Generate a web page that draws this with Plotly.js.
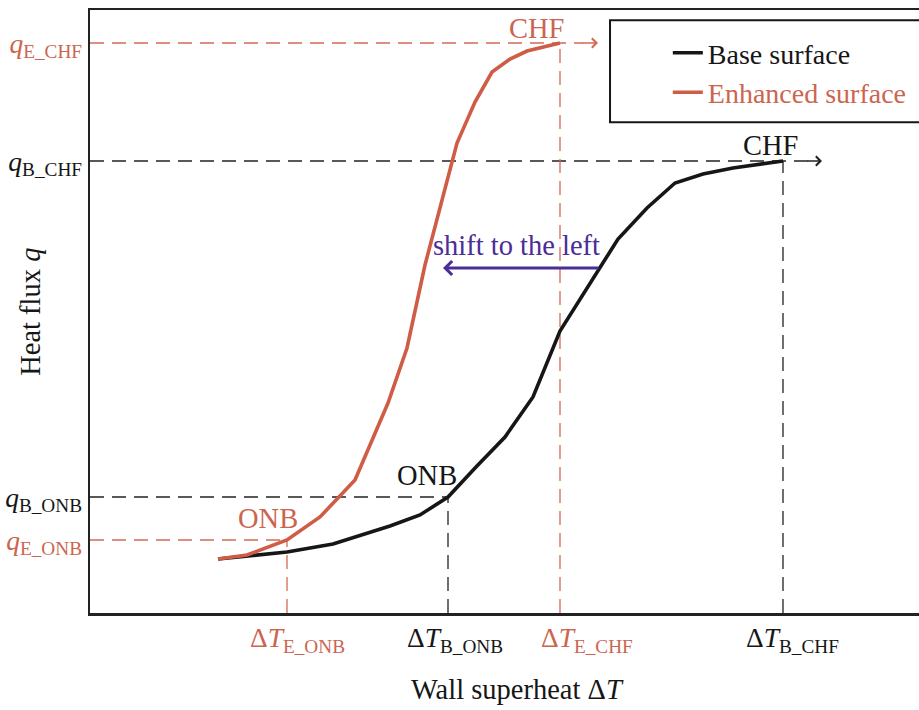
<!DOCTYPE html>
<html>
<head>
<meta charset="utf-8">
<script src="https://cdn.plot.ly/plotly-3.0.1.min.js"></script>
<style>html,body{margin:0;padding:0;background:#fff;}</style>
</head>
<body>
<div id="chart" style="width:919px;height:710px;"></div>
<script>
// Base surface boiling curve (wall superheat, heat flux) in arbitrary units
const baseT = [128, 197, 243, 300, 330, 358, 386, 415, 443, 470, 528, 557, 585, 613, 643, 693];
const baseQ = [54, 61, 69, 87, 98, 116, 146, 176, 216, 282, 374, 405, 430, 439, 445, 452];
// Enhanced surface boiling curve
const enhT = [128, 157, 197, 230, 265, 298, 317, 335, 367, 385, 402, 420, 437, 470];
const enhQ = [54, 58, 73, 96, 133, 210, 265, 348, 470, 511, 541, 554, 562, 570];
// Key points: [ONB, CHF]
const keyNames = ['ONB', 'CHF'];
const baseKeyT = [358, 693];
const baseKeyQ = [116, 452];
const enhKeyT = [197, 470];
const enhKeyQ = [73, 570];
// Tick labels
const xTickText = ['E_ONB', 'B_ONB', 'E_CHF', 'B_CHF'];
const yTickText = ['E_CHF', 'B_CHF', 'B_ONB', 'E_ONB'];

const RED = '#cf5c45';
const RED_TXT = '#cc6550';
const RED_DASH = '#d46a55';
const BLACK = '#161616';
const PURPLE = '#4b2d96';
const FONT = 'Liberation Serif, Times New Roman, serif';
const FS = 28.5;

function col(c, s) { return '<span style="color:' + c + '">' + s + '</span>'; }

const xTickVals = [enhKeyT[0], baseKeyT[0], enhKeyT[1], baseKeyT[1]];
const xTickColors = [RED_TXT, BLACK, RED_TXT, BLACK];
const xLabelShift = [10, 7, 27, 9];
const yTickVals = [enhKeyQ[1], baseKeyQ[1], baseKeyQ[0], enhKeyQ[0]];
const yTickColors = [RED_TXT, BLACK, BLACK, RED_TXT];
const yTicks = yTickText.map((t, i) => col(yTickColors[i], '<i>q</i><sub>' + t + '</sub>'));

const traces = [
  {x: baseT, y: baseQ, mode: 'lines', name: col(BLACK, 'Base surface'),
   line: {color: BLACK, width: 3.6}},
  {x: enhT, y: enhQ, mode: 'lines', name: col(RED_TXT, 'Enhanced surface'),
   line: {color: RED, width: 3.6}}
];

const dash = '14px,8px';
const shapes = [];
function hline(y, x1, c) {
  shapes.push({type: 'line', xref: 'x', yref: 'y', x0: 0, x1: x1, y0: y, y1: y,
    line: {color: c, width: 1.3, dash: dash}, layer: 'below'});
}
function vline(x, y1, c) {
  shapes.push({type: 'line', xref: 'x', yref: 'y', x0: x, x1: x, y0: 0, y1: y1,
    line: {color: c, width: 1.3, dash: dash}, layer: 'below'});
}
const enhArrowTip = 508, baseArrowTip = 732;
hline(enhKeyQ[1], enhArrowTip - 14, RED_DASH);
hline(baseKeyQ[1], baseArrowTip - 14, '#222');
hline(baseKeyQ[0], baseKeyT[0], '#222');
hline(enhKeyQ[0], enhKeyT[0], RED_DASH);
vline(enhKeyT[1], enhKeyQ[1], RED_DASH);
vline(baseKeyT[1], baseKeyQ[1], '#222');
vline(baseKeyT[0], baseKeyQ[0], '#222');
vline(enhKeyT[0], enhKeyQ[0], RED_DASH);
// legend frame
shapes.push({type: 'rect', xref: 'paper', yref: 'paper', x0: 0.6273, x1: 1.05, y0: 0.814, y1: 0.983,
  line: {color: BLACK, width: 2}, fillcolor: 'rgba(0,0,0,0)'});

const annotations = [
  {x: enhArrowTip, y: enhKeyQ[1], ax: enhArrowTip - 16, ay: enhKeyQ[1], axref: 'x', ayref: 'y',
   showarrow: true, arrowhead: 4, arrowsize: 1.4, arrowwidth: 1.3, arrowcolor: RED_DASH, text: ''},
  {x: baseArrowTip, y: baseKeyQ[1], ax: baseArrowTip - 16, ay: baseKeyQ[1], axref: 'x', ayref: 'y',
   showarrow: true, arrowhead: 4, arrowsize: 1.4, arrowwidth: 1.3, arrowcolor: '#222', text: ''},
  {x: 353, y: 345, ax: 510, ay: 345, axref: 'x', ayref: 'y', showarrow: true,
   arrowhead: 4, arrowsize: 0.9, arrowwidth: 3, arrowcolor: PURPLE, text: ''},
  {x: 426, y: 368, text: 'shift to the left', showarrow: false, font: {family: FONT, size: FS, color: PURPLE}},
  {x: enhKeyT[1] - 24, y: enhKeyQ[1] + 15, text: keyNames[1], showarrow: false, font: {family: FONT, size: FS, color: RED_TXT}},
  {x: baseKeyT[1] - 13, y: baseKeyQ[1] + 16, text: keyNames[1], showarrow: false, font: {family: FONT, size: FS, color: BLACK}},
  {x: baseKeyT[0] - 21, y: baseKeyQ[0] + 22, text: keyNames[0], showarrow: false, font: {family: FONT, size: FS, color: BLACK}},
  {x: enhKeyT[0] - 19, y: enhKeyQ[0] + 22, text: keyNames[0], showarrow: false, font: {family: FONT, size: FS, color: RED_TXT}},
  // axis titles
  {xref: 'paper', yref: 'paper', x: -0.072, y: 0.5, xanchor: 'center', yanchor: 'middle',
   text: 'Heat flux <i>q</i>', textangle: -90,
   showarrow: false, font: {family: FONT, size: FS, color: BLACK}},
  {xref: 'paper', yref: 'paper', x: 0.516, y: -0.127, xanchor: 'center', yanchor: 'middle',
   text: 'Wall superheat Δ<i>T</i>',
   showarrow: false, font: {family: FONT, size: FS, color: BLACK}}
];
// x-axis key labels below the axis
xTickText.forEach((t, i) => {
  annotations.push({x: xTickVals[i], xref: 'x', yref: 'paper', y: -0.012, yanchor: 'top',
    xshift: xLabelShift[i], showarrow: false,
    text: 'Δ<i>T</i><sub>' + t + '</sub>', font: {family: FONT, size: 27.5, color: xTickColors[i]}});
});

const layout = {
  width: 919, height: 710,
  margin: {l: 90, r: 0, t: 10, b: 97, pad: 0},
  paper_bgcolor: '#fff', plot_bgcolor: '#fff',
  font: {family: FONT, size: FS, color: BLACK},
  showlegend: true,
  legend: {x: 0.697, y: 0.97, xanchor: 'left', yanchor: 'top', bgcolor: 'rgba(0,0,0,0)',
    borderwidth: 0, font: {family: FONT, size: 28}, tracegroupgap: 0},
  xaxis: {range: [0, 829], showgrid: false, zeroline: false, showline: true, mirror: true,
    linecolor: '#222', linewidth: 2.5, ticks: '', tickvals: xTickVals, showticklabels: false,
    automargin: false, fixedrange: true},
  yaxis: {range: [0, 603], showgrid: false, zeroline: false, showline: true, mirror: false,
    linecolor: '#222', linewidth: 2.5, ticks: '', tickvals: yTickVals, ticktext: yTicks,
    tickfont: {family: FONT, size: 27.5},
    automargin: false, fixedrange: true},
  shapes: shapes,
  annotations: annotations
};

Plotly.newPlot('chart', traces, layout, {displayModeBar: false, staticPlot: true});
</script>
</body>
</html>
